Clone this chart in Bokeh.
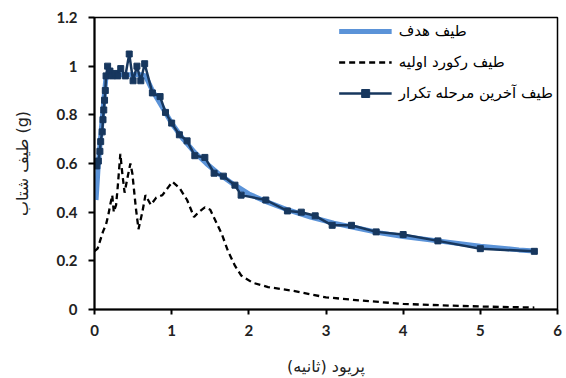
from bokeh.plotting import figure
from bokeh.models import FixedTicker, CustomJSTickFormatter, Range1d, Legend, LegendItem
from bokeh.embed import file_html
from bokeh.resources import INLINE

# Target spectrum
target_x = [0.02, 0.05, 0.08, 0.11, 0.15, 0.2, 0.3, 0.4, 0.5, 0.6, 0.66, 0.75, 0.9, 1.0,
            1.15, 1.3, 1.45, 1.6, 1.8, 2.0, 2.25, 2.5, 2.8, 3.1, 3.4, 3.7, 4.0, 4.5, 5.0, 5.5, 5.7]
target_y = [0.45, 0.60, 0.71, 0.82, 0.96, 0.965, 0.965, 0.965, 0.965, 0.965, 0.96, 0.90, 0.82, 0.765,
            0.70, 0.645, 0.60, 0.56, 0.515, 0.475, 0.44, 0.41, 0.38, 0.355, 0.335, 0.315, 0.30, 0.28, 0.26, 0.245, 0.24]

# Initial record spectrum
record_x = [0.0, 0.04, 0.08, 0.11, 0.15, 0.18, 0.21, 0.23, 0.25, 0.28, 0.30, 0.335, 0.36, 0.39, 0.42,
            0.465, 0.49, 0.535, 0.57, 0.62, 0.66, 0.73, 0.80, 0.88, 0.95, 1.01, 1.10, 1.20, 1.29, 1.35,
            1.43, 1.50, 1.56, 1.65, 1.73, 1.82, 1.9, 2.05, 2.25, 2.55, 3.0, 3.45, 4.0, 4.6, 5.05, 5.7]
record_y = [0.24, 0.25, 0.29, 0.32, 0.35, 0.39, 0.44, 0.47, 0.40, 0.43, 0.50, 0.64, 0.56, 0.48, 0.53,
            0.60, 0.56, 0.42, 0.33, 0.40, 0.47, 0.43, 0.46, 0.47, 0.50, 0.525, 0.50, 0.45, 0.38, 0.40,
            0.42, 0.41, 0.37, 0.31, 0.24, 0.18, 0.14, 0.11, 0.092, 0.078, 0.05, 0.037, 0.023, 0.016, 0.012, 0.008]

# Final iteration spectrum
final_x = [0.03, 0.05, 0.07, 0.08, 0.10, 0.11, 0.12, 0.13, 0.14, 0.15, 0.17, 0.20, 0.23, 0.27, 0.30,
           0.34, 0.40, 0.45, 0.50, 0.55, 0.60, 0.65, 0.75, 0.85, 0.92, 1.0, 1.1, 1.2, 1.3, 1.43,
           1.55, 1.67, 1.82, 1.9, 2.22, 2.5, 2.68, 2.86, 3.08, 3.33, 3.65, 4.0, 4.45, 5.0, 5.7]
final_y = [0.59, 0.61, 0.65, 0.69, 0.73, 0.78, 0.82, 0.86, 0.90, 0.96, 1.00, 0.98, 0.96, 0.97, 0.96,
           0.99, 0.96, 1.05, 0.94, 1.00, 0.94, 1.01, 0.89, 0.875, 0.81, 0.766, 0.718, 0.693, 0.632, 0.625,
           0.56, 0.548, 0.511, 0.47, 0.45, 0.405, 0.40, 0.385, 0.346, 0.346, 0.319, 0.308, 0.282, 0.25, 0.239]

x_ticks = [0, 1, 2, 3, 4, 5, 6]
y_ticks = [0, 0.2, 0.4, 0.6, 0.8, 1.0, 1.2]

legend_labels = ["طیف هدف", "طیف رکورد اولیه", "طیف آخرین مرحله تکرار"]
x_title = "پریود (ثانیه)"
y_title = "طیف شتاب (g)"

p = figure(width=566, height=378, output_backend="svg", toolbar_location=None,
           x_range=Range1d(0, 6), y_range=Range1d(0, 1.2),
           min_border_left=94, min_border_right=9, min_border_top=17, min_border_bottom=69)
p.background_fill_color = "white"
p.border_fill_color = "white"
p.outline_line_color = "black"
p.outline_line_width = 1.5
p.xgrid.visible = False
p.ygrid.visible = False

r_target = p.line(target_x, target_y, line_color="#5b93d8", line_width=5)
r_record = p.line(record_x, record_y, line_color="black", line_width=2.3, line_dash="6 4")
r_final_l = p.line(final_x, final_y, line_color="#17375e", line_width=2.5)
r_final_m = p.scatter(final_x, final_y, marker="square", size=6, fill_color="#17375e", line_color="#17375e")

tick_font = "Lato"
for ax in (p.xaxis[0], p.yaxis[0]):
    ax.axis_line_color = "black"
    ax.axis_line_width = 2
    ax.major_tick_line_color = "black"
    ax.major_tick_line_width = 2
    ax.major_tick_in = 0
    ax.minor_tick_line_color = None
    ax.major_label_text_font = tick_font
    ax.major_label_text_font_style = "bold"
    ax.major_label_text_font_size = "15px"
    ax.major_label_text_color = "#222222"
    ax.axis_label_text_font = "DejaVu Sans"
    ax.axis_label_text_font_style = "normal"
    ax.axis_label_text_font_size = "16px"
    ax.axis_label_text_color = "#222222"

p.xaxis.ticker = FixedTicker(ticks=x_ticks)
p.yaxis.ticker = FixedTicker(ticks=y_ticks)
p.yaxis.formatter = CustomJSTickFormatter(code="return tick.toFixed(1).replace(/\\.0$/, '');")
p.xaxis.major_tick_out = 5
p.yaxis.major_tick_out = 6
p.xaxis.major_label_standoff = 10
p.yaxis.major_label_standoff = 11
p.xaxis.axis_label = x_title
p.yaxis.axis_label = y_title
p.xaxis.axis_label_standoff = 18
p.yaxis.axis_label_standoff = 22

legend = Legend(items=[
    LegendItem(label=legend_labels[0], renderers=[r_target]),
    LegendItem(label=legend_labels[1], renderers=[r_record]),
    LegendItem(label=legend_labels[2], renderers=[r_final_l, r_final_m]),
], location="top_right")
legend.border_line_color = None
legend.background_fill_alpha = 0
legend.label_text_font = "DejaVu Sans"
legend.label_text_font_size = "15px"
legend.label_text_color = "black"
legend.glyph_width = 53
legend.glyph_height = 20
legend.label_height = 20
legend.spacing = 11
legend.padding = 9
legend.margin = 4
legend.label_standoff = 7
p.add_layout(legend)

open("out.html", "w").write(file_html(p, INLINE))
